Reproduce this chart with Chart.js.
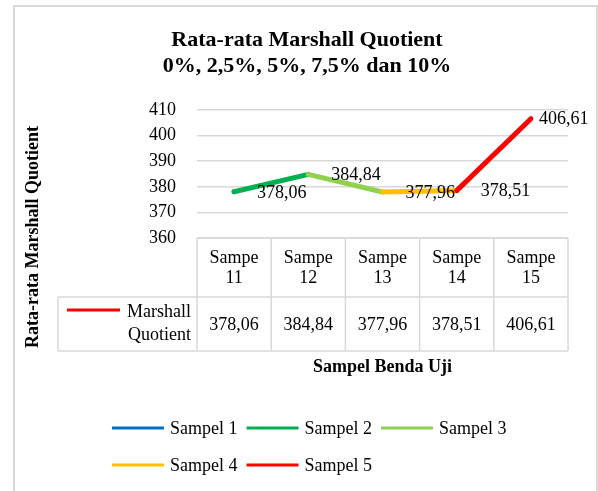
<!DOCTYPE html>
<html><head><meta charset="utf-8">
<style>html,body{margin:0;padding:0;background:#fff;} canvas{display:block;}</style>
<script src="https://cdn.jsdelivr.net/npm/chart.js@4.4.1/dist/chart.umd.min.js"></script>
</head><body>
<canvas id="c" width="598" height="491"></canvas>
<script>
// ---- data ----
const categories = [['Sampe','11'],['Sampe','12'],['Sampe','13'],['Sampe','14'],['Sampe','15']];
const values = [378.06, 384.84, 377.96, 378.51, 406.61];
const valueLabels = ['378,06','384,84','377,96','378,51','406,61'];
const seriesNames = ['Sampel 1','Sampel 2','Sampel 3','Sampel 4','Sampel 5'];
const yTicks = [360, 370, 380, 390, 400, 410];
const tableSeriesName = ['Marshall','Quotient'];
const titleLines = ['Rata-rata Marshall Quotient','0%, 2,5%, 5%, 7,5% dan 10%'];
const yTitle = 'Rata-rata Marshall Quotient';
const xTitle = 'Sampel Benda Uji';

// ---- style ----
const seriesColors = ['#0070C0','#00B050','#92D050','#FFC000','#FF0000'];
const labelDx = [23, 23, 23, 24, 8];
const FAMILY = "'Liberation Serif', 'Times New Roman', serif";
const GRID = '#d9d9d9';

Chart.defaults.font.family = FAMILY;
Chart.defaults.color = '#000';

const datasets = seriesNames.map((name, k) => ({
  label: name,
  data: values.map((v, i) => (i === k || i === k - 1) ? v : null),
  borderColor: seriesColors[k],
  backgroundColor: seriesColors[k],
  borderWidth: 5,
  borderCapStyle: 'round',
  borderJoinStyle: 'round',
  pointRadius: 0,
  pointHoverRadius: 0,
  tension: 0,
  spanGaps: false,
  fill: false,
  order: seriesNames.length - k
}));

function line(ctx, x1, y1, x2, y2) { ctx.beginPath(); ctx.moveTo(x1, y1); ctx.lineTo(x2, y2); ctx.stroke(); }

const decor = {
  id: 'decor',
  beforeDraw(chart) {
    const ctx = chart.ctx;
    ctx.save();
    ctx.fillStyle = '#fff';
    ctx.fillRect(0, 0, chart.width, chart.height);
    ctx.strokeStyle = GRID; ctx.lineWidth = 2;
    ctx.strokeRect(14, 6, 583, 500);
    ctx.restore();
  },
  afterDatasetsDraw(chart) {
    const ctx = chart.ctx, xs = chart.scales.x, ys = chart.scales.y;
    ctx.save();
    ctx.font = '18px ' + FAMILY;
    ctx.fillStyle = '#000';
    ctx.textAlign = 'left'; ctx.textBaseline = 'middle';
    values.forEach((v, i) => {
      ctx.fillText(valueLabels[i], xs.getPixelForValue(i) + labelDx[i], ys.getPixelForValue(v) + 1);
    });
    ctx.restore();
  },
  afterDraw(chart) {
    const ctx = chart.ctx, xs = chart.scales.x, ca = chart.chartArea;
    const half = (xs.getPixelForValue(1) - xs.getPixelForValue(0)) / 2;
    const top = ca.bottom, mid = top + 59, bot = top + 113;
    const left = ca.left - 139;
    ctx.save();
    // table grid
    ctx.strokeStyle = GRID; ctx.lineWidth = 1.5;
    line(ctx, ca.left, top, ca.right, top);
    line(ctx, left, mid, ca.right, mid);
    line(ctx, left, bot, ca.right, bot);
    for (let i = 0; i <= categories.length; i++) {
      const x = i < categories.length ? xs.getPixelForValue(i) - half : xs.getPixelForValue(i - 1) + half;
      line(ctx, x, top, x, bot);
    }
    line(ctx, left, mid, left, bot);
    // table text
    ctx.fillStyle = '#000';
    ctx.font = '18px ' + FAMILY;
    ctx.textAlign = 'center'; ctx.textBaseline = 'middle';
    categories.forEach((c, i) => {
      const cx = xs.getPixelForValue(i);
      ctx.fillText(c[0], cx, top + 20);
      ctx.fillText(c[1], cx, top + 40);
      ctx.fillText(valueLabels[i], cx, mid + 28);
    });
    ctx.textAlign = 'right';
    ctx.fillText(tableSeriesName[0], ca.left - 6, mid + 15);
    ctx.fillText(tableSeriesName[1], ca.left - 6, mid + 38);
    ctx.strokeStyle = seriesColors[4]; ctx.lineWidth = 3;
    line(ctx, left + 9, mid + 13, left + 62, mid + 13);
    // axis titles
    ctx.font = 'bold 18px ' + FAMILY;
    ctx.textAlign = 'center';
    ctx.fillText(xTitle, (ca.left + ca.right) / 2, 367);
    ctx.save();
    ctx.translate(33, 237);
    ctx.rotate(-Math.PI / 2);
    ctx.fillText(yTitle, 0, 0);
    ctx.restore();
    // legend
    ctx.font = '18px ' + FAMILY;
    ctx.textAlign = 'left';
    seriesNames.forEach((name, k) => {
      const col = k % 3, row = Math.floor(k / 3);
      const x = 112 + col * 134.5, y = 428 + row * 37;
      ctx.strokeStyle = seriesColors[k]; ctx.lineWidth = 3;
      line(ctx, x, y, x + 52, y);
      ctx.fillText(name, x + 58, y + 1);
    });
    ctx.restore();
  }
};

new Chart(document.getElementById('c'), {
  type: 'line',
  data: { labels: categories, datasets },
  options: {
    responsive: false,
    animation: false,
    devicePixelRatio: 1,
    layout: { padding: { left: 46, right: 30, top: 0, bottom: 0 } },
    plugins: {
      legend: { display: false },
      tooltip: { enabled: false },
      title: {
        display: true,
        text: titleLines,
        color: '#000',
        font: { family: FAMILY, size: 22, weight: 'bold', lineHeight: 1.2 },
        padding: { top: 27, bottom: 30.2 }
      }
    },
    scales: {
      x: {
        type: 'category',
        offset: true,
        grid: { display: false },
        border: { display: false },
        ticks: { display: false },
        afterFit(s) { s.height = 253; }
      },
      y: {
        min: yTicks[0],
        max: yTicks[yTicks.length - 1],
        afterBuildTicks(s) { s.ticks = yTicks.map(v => ({ value: v })); },
        ticks: { padding: 21, color: '#000', font: { family: FAMILY, size: 18 } },
        grid: { color: GRID, lineWidth: 1.5, drawTicks: false },
        border: { display: false },
        afterFit(s) { s.width = 151; }
      }
    }
  },
  plugins: [decor]
});
</script>
</body></html>
